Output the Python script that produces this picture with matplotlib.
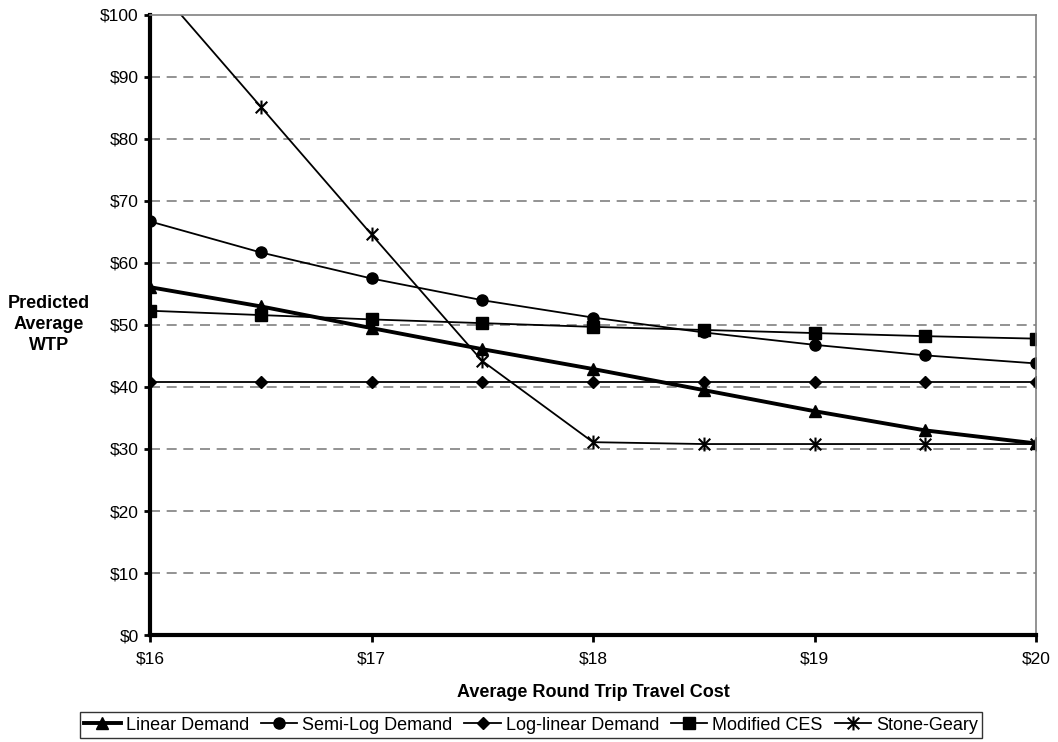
import matplotlib
matplotlib.use("Agg")
import matplotlib.pyplot as plt
from matplotlib.path import Path
from matplotlib.ticker import FuncFormatter

plt.rcParams['font.family'] = ['Liberation Sans', 'DejaVu Sans']

cost = [16, 16.5, 17, 17.5, 18, 18.5, 19, 19.5, 20]
linear = [56.1, 53.0, 49.5, 46.1, 42.9, 39.5, 36.1, 33.0, 30.9]
semi_log = [66.7, 61.7, 57.5, 54.0, 51.2, 48.8, 46.8, 45.1, 43.8]
log_linear = [40.8, 40.8, 40.8, 40.8, 40.8, 40.8, 40.8, 40.8, 40.8]
mod_ces = [52.3, 51.6, 50.9, 50.3, 49.7, 49.2, 48.7, 48.2, 47.8]
stone_geary = [105.8, 85.2, 64.6, 44.2, 31.1, 30.8, 30.8, 30.8, 30.8]

# star marker: an X with a vertical stroke through it
star = Path([(-1, -1), (1, 1), (-1, 1), (1, -1), (0, -1.2), (0, 1.2)],
            [Path.MOVETO, Path.LINETO, Path.MOVETO, Path.LINETO, Path.MOVETO, Path.LINETO])

fig = plt.figure(figsize=(10.58, 7.42), dpi=100)
ax = fig.add_axes([0.1418, 0.1442, 0.8374, 0.8356])

ax.plot(cost, linear, color='black', lw=2.8, marker='^', ms=8, label='Linear Demand')
ax.plot(cost, semi_log, color='black', lw=1.3, marker='o', ms=8, label='Semi-Log Demand')
ax.plot(cost, log_linear, color='black', lw=1.3, marker='D', ms=6.5, label='Log-linear Demand')
ax.plot(cost, mod_ces, color='black', lw=1.3, marker='s', ms=8, label='Modified CES')
ax.plot(cost, stone_geary, color='black', lw=1.3, marker=star, ms=10, mew=1.5,
        label='Stone-Geary')

ax.set_xlim(16, 20)
ax.set_ylim(0, 100)
ax.set_yticks(range(0, 101, 10))
ax.set_xticks([16, 17, 18, 19, 20])
ax.yaxis.set_major_formatter(FuncFormatter(lambda v, p: '$%d' % v))
ax.xaxis.set_major_formatter(FuncFormatter(lambda v, p: '$%d' % v))
ax.tick_params(axis='y', labelsize=12.5, length=4, width=2, direction='out', pad=4)
ax.tick_params(axis='x', labelsize=12.5, length=5, width=2, direction='out', pad=7)

for y in range(10, 100, 10):
    ax.axhline(y, color='#808080', lw=1.2, ls=(0, (6, 4)), zorder=0)

ax.spines['left'].set_linewidth(3)
ax.spines['bottom'].set_linewidth(3)
ax.spines['top'].set_color('#808080')
ax.spines['right'].set_color('#808080')
ax.spines['top'].set_linewidth(1.2)
ax.spines['right'].set_linewidth(1.2)

ax.set_xlabel('Average Round Trip Travel Cost', fontsize=13, fontweight='bold')
ax.xaxis.label.set_va('center')
ax.xaxis.set_label_coords(0.5, -0.092)
fig.text(0.046, 0.563, 'Predicted\nAverage\nWTP', fontsize=13, fontweight='bold',
         ha='center', va='center', linespacing=1.3)

leg = fig.legend(loc='center', bbox_to_anchor=(0.502, 0.0229), ncol=5, fontsize=13,
                 frameon=True, fancybox=False, edgecolor='black', handlelength=2.0,
                 handletextpad=0.28, columnspacing=0.67, borderpad=0.25, borderaxespad=0)
leg.get_frame().set_linewidth(1.0)

fig.savefig('out.png', dpi=100)
